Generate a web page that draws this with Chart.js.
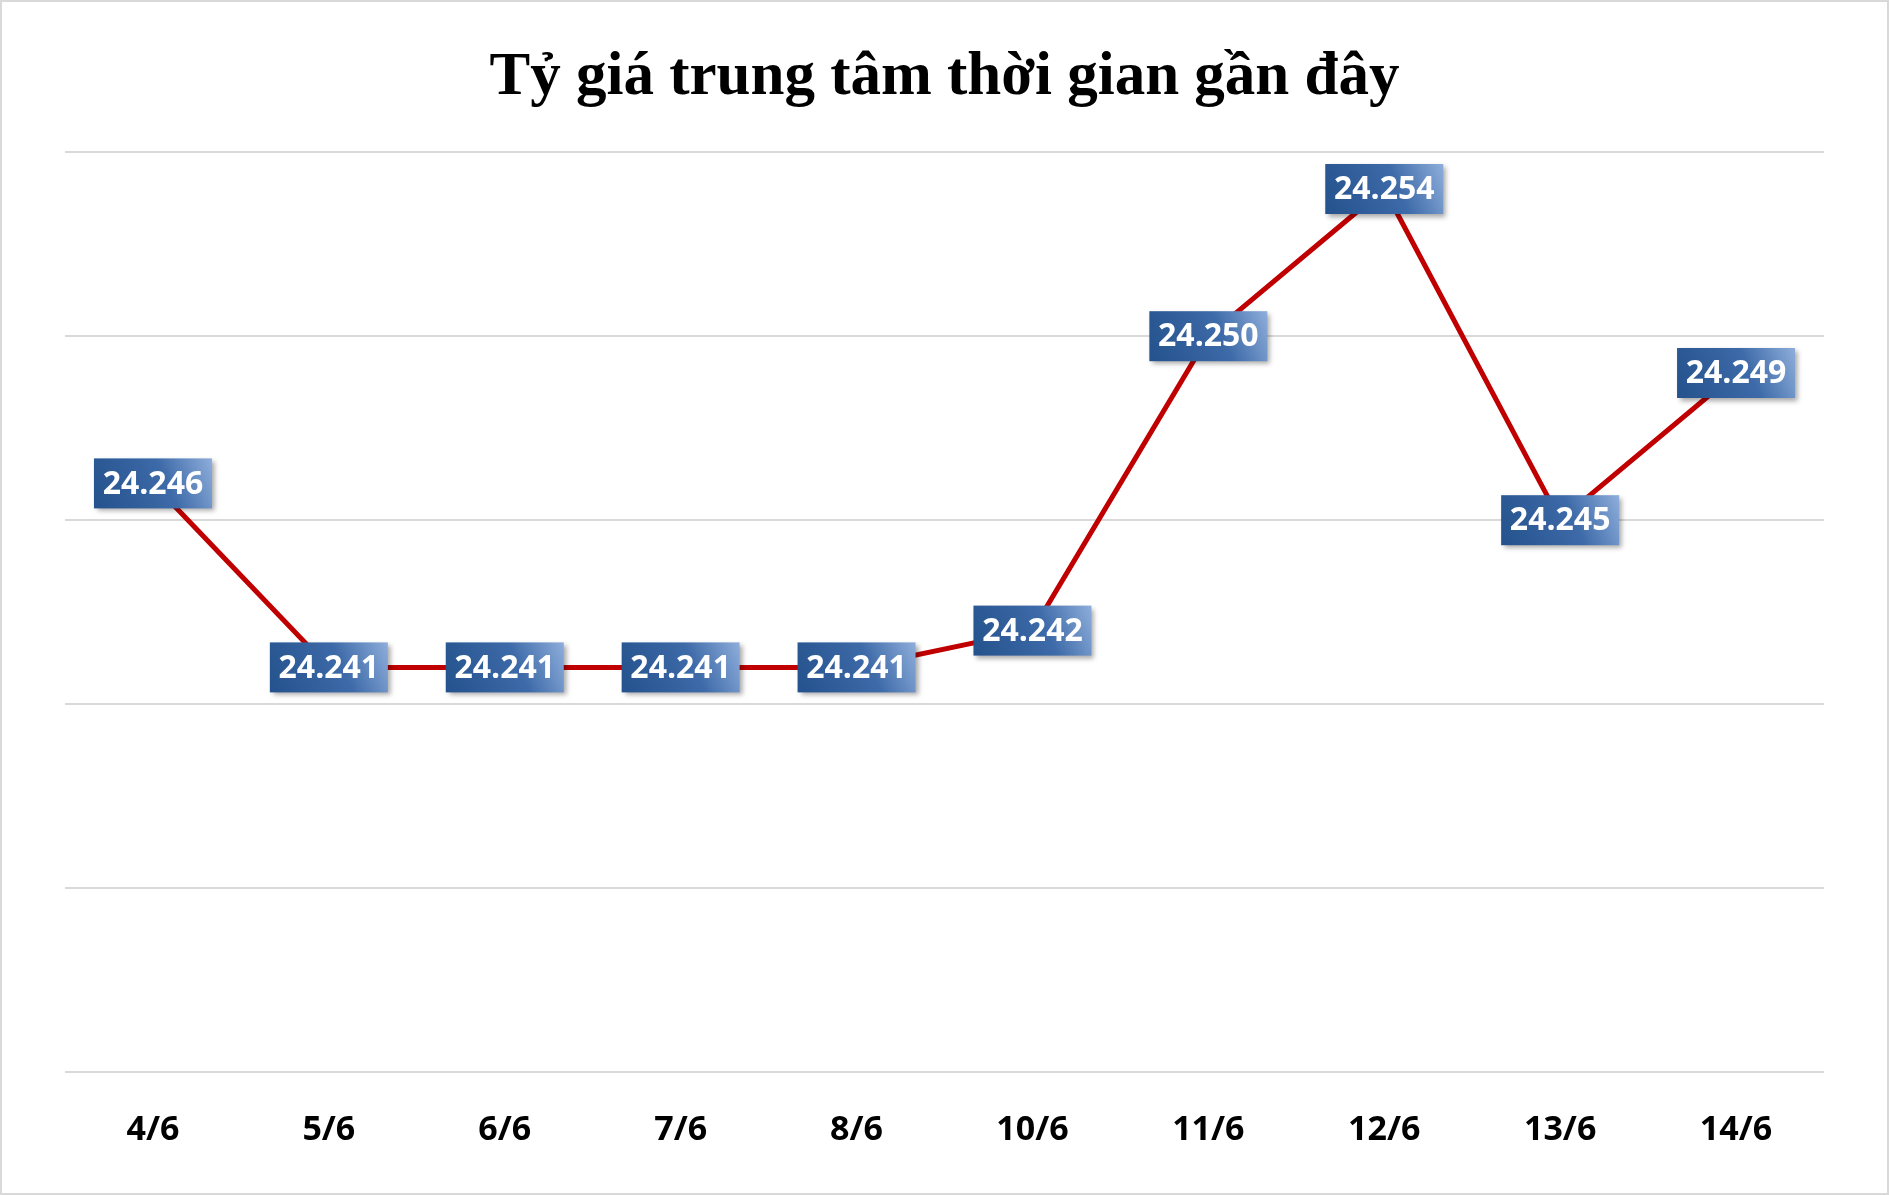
<!DOCTYPE html>
<html>
<head>
<meta charset="utf-8">
<script src="https://cdn.jsdelivr.net/npm/chart.js@4/dist/chart.umd.min.js"></script>
<style>
  html, body { margin: 0; padding: 0; background: #fff; }
  #wrap { width: 1889px; height: 1195px; position: relative; box-sizing: border-box; border: 2px solid #d9d9d9; }
  canvas { display: block; }
</style>
</head>
<body>
<div id="wrap"><canvas id="rateChart" width="1885" height="1191"></canvas></div>
<script>
// --- DATA ---
const dates = ['4/6', '5/6', '6/6', '7/6', '8/6', '10/6', '11/6', '12/6', '13/6', '14/6'];
const rates = [24.246, 24.241, 24.241, 24.241, 24.241, 24.242, 24.250, 24.254, 24.245, 24.249];
const titleText = 'Tỷ giá trung tâm thời gian gần đây';

// draws the blue value boxes on each point
const valueBoxes = {
  id: 'valueBoxes',
  afterDatasetsDraw(chart) {
    const { ctx } = chart;
    const meta = chart.getDatasetMeta(0);
    ctx.save();
    ctx.font = 'bold 32px "Open Sans", "Liberation Sans", sans-serif';
    ctx.textAlign = 'center';
    ctx.textBaseline = 'middle';
    meta.data.forEach((pt, i) => {
      const w = 118, h = 50;
      const x = pt.x - w / 2, y = pt.y - h / 2;
      const grad = ctx.createLinearGradient(x, y + h, x + w, y);
      grad.addColorStop(0, '#24528c');
      grad.addColorStop(0.6, '#3d6aa8');
      grad.addColorStop(1, '#8eaedb');
      ctx.shadowColor = 'rgba(0,0,0,0.35)';
      ctx.shadowBlur = 5;
      ctx.shadowOffsetX = 3;
      ctx.shadowOffsetY = 3;
      ctx.fillStyle = grad;
      ctx.fillRect(x, y, w, h);
      ctx.shadowColor = 'transparent';
      ctx.fillStyle = '#ffffff';
      ctx.fillText(rates[i].toFixed(3), pt.x, pt.y + 1);
    });
    ctx.restore();
  }
};

new Chart(document.getElementById('rateChart'), {
  type: 'line',
  data: {
    labels: dates,
    datasets: [{
      data: rates,
      borderColor: '#c00000',
      borderWidth: 5,
      pointRadius: 0,
      tension: 0
    }]
  },
  options: {
    responsive: false,
    animation: false,
    layout: { padding: { left: 63, right: 63, top: 18, bottom: 12 } },
    plugins: {
      legend: { display: false },
      tooltip: { enabled: false },
      title: {
        display: true,
        text: titleText,
        color: '#000',
        font: { family: '"Liberation Serif", serif', size: 61, weight: 'bold' },
        padding: { top: 22, bottom: 37 }
      }
    },
    scales: {
      x: {
        offset: true,
        grid: { display: false },
        border: { display: false },
        ticks: {
          color: '#000',
          padding: 30,
          font: { family: '"Open Sans", "Liberation Sans", sans-serif', size: 34, weight: 'bold' }
        }
      },
      y: {
        display: true,
        min: 24.230,
        max: 24.255,
        ticks: { stepSize: 0.005, display: false },
        border: { display: false },
        grid: { color: '#d9d9d9', lineWidth: 2, drawTicks: false }
      }
    }
  },
  plugins: [valueBoxes]
});
</script>
</body>
</html>
